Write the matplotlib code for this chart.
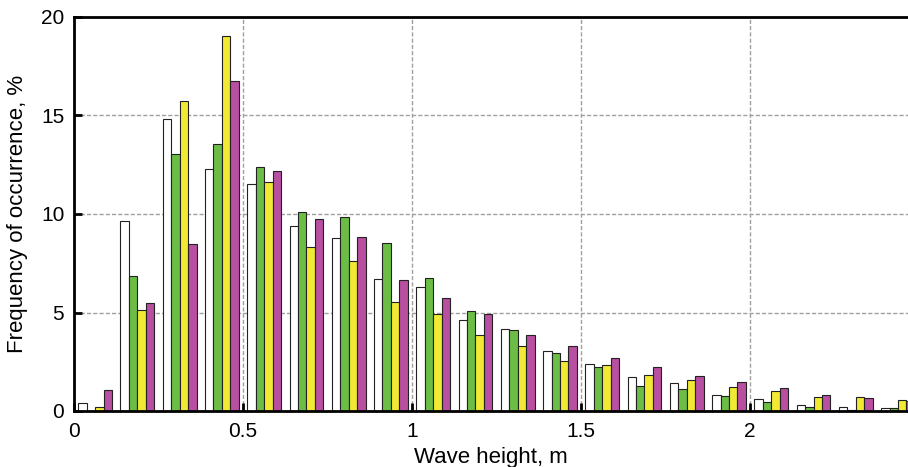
import numpy as np
import matplotlib

matplotlib.use("Agg")
import matplotlib.pyplot as plt  # noqa: E402

plt.rcParams["font.family"] = ["Liberation Sans", "DejaVu Sans"]

# wave height bins (lower edges, m), bin width 0.125
bin_starts = [0.0, 0.125, 0.25, 0.375, 0.5, 0.625, 0.75, 0.875, 1.0, 1.125,
              1.25, 1.375, 1.5, 1.625, 1.75, 1.875, 2.0, 2.125, 2.25, 2.375]
white = [0.39, 9.66, 14.84, 12.28, 11.54, 9.37, 8.77, 6.70, 6.29, 4.60,
         4.16, 3.05, 2.40, 1.74, 1.41, 0.80, 0.59, 0.32, 0.22, 0.17]
green = [0.0, 6.84, 13.06, 13.57, 12.40, 10.12, 9.83, 8.51, 6.77, 5.08,
         4.13, 2.93, 2.23, 1.28, 1.12, 0.76, 0.46, 0.19, 0.05, 0.14]
yellow = [0.19, 5.11, 15.74, 19.04, 11.62, 8.31, 7.60, 5.52, 4.91, 3.86,
          3.28, 2.52, 2.32, 1.81, 1.56, 1.22, 1.00, 0.71, 0.70, 0.56]
magenta = [1.05, 5.47, 8.49, 16.75, 12.17, 9.75, 8.85, 6.63, 5.75, 4.92,
           3.84, 3.30, 2.69, 2.25, 1.78, 1.49, 1.15, 0.83, 0.64, 0.50]

series = [white, green, yellow, magenta]
colors = ["#ffffff", "#6cbd45", "#f1e934", "#b84fa0"]

fig = plt.figure(figsize=(9.08, 4.67), dpi=100)
ax = fig.add_axes([74 / 908, 1 - 411 / 467, 1 - 74 / 908, (411 - 17) / 467])

w = 0.025
x0 = np.array(bin_starts) + 0.0125
for j, (vals, c) in enumerate(zip(series, colors)):
    vals = np.array(vals)
    keep = vals > 0
    ax.bar(x0[keep] + j * w, vals[keep], w, align="edge", color=c,
           edgecolor="#222222", linewidth=0.8, zorder=2)

ax.set_xlim(0, 2.467)
ax.set_ylim(0, 20)
ax.set_xticks([0, 0.5, 1, 1.5, 2])
ax.set_xticklabels(["0", "0.5", "1", "1.5", "2"])
ax.set_yticks([0, 5, 10, 15, 20])
ax.tick_params(direction="in", length=6, width=2, labelsize=15)
ax.tick_params(axis="x", pad=8)
ax.tick_params(axis="y", pad=7)
ax.grid(True, color="#a0a0a0", linestyle=(0, (3, 1.5)), linewidth=1.0, zorder=0)
ax.set_axisbelow(True)

for s in ["left", "bottom", "top"]:
    ax.spines[s].set_linewidth(2)
    ax.spines[s].set_zorder(3)
ax.spines["right"].set_visible(False)

ax.set_xlabel("Wave height, m", fontsize=16, labelpad=4)
ax.set_ylabel("Frequency of occurrence, %", fontsize=16, labelpad=9)

fig.savefig("out.png", dpi=100)
